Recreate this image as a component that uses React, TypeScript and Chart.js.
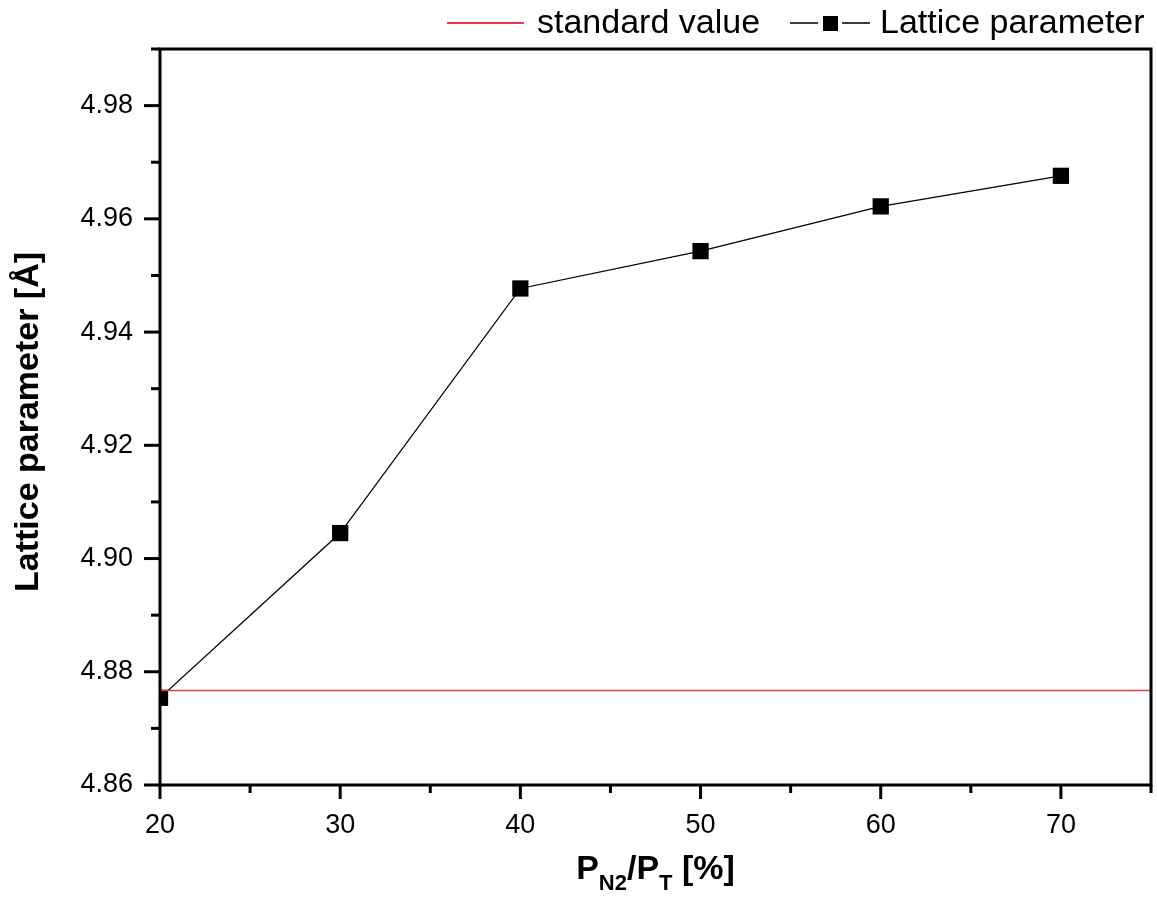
import React, { useEffect, useRef } from 'react';
import { Chart, registerables } from 'chart.js';

Chart.register(...registerables);

// ---- data ----
const xValues = [20, 30, 40, 50, 60, 70];
const latticeValues = [4.8754, 4.9045, 4.9477, 4.9543, 4.9622, 4.9676];
const standardValue = 4.8767;
const xRange = [20, 75];
const yRange = [4.86, 4.99];
const legendLabels = ['standard value', 'Lattice parameter'];
const yTitle = 'Lattice parameter [Å]';
const xTitleParts = [
  { t: 'P', sub: false },
  { t: 'N2', sub: true },
  { t: '/P', sub: false },
  { t: 'T', sub: true },
  { t: ' [%]', sub: false },
];

const FONT = "'Liberation Sans', Arial, Helvetica, sans-serif";
const RED = '#e23a55';

const zeroPad = (s: any) => {
  s.paddingLeft = 0;
  s.paddingRight = 0;
  s.paddingTop = 0;
  s.paddingBottom = 0;
};

const decorPlugin = {
  id: 'decor',
  afterDraw(chart: any) {
    const ctx = chart.ctx as CanvasRenderingContext2D;
    const { left, right, top, bottom } = chart.chartArea;
    const xs = chart.scales.x;
    const ys = chart.scales.y;
    ctx.save();
    ctx.strokeStyle = '#000';
    ctx.fillStyle = '#000';
    ctx.lineWidth = 3;
    ctx.strokeRect(left, top, right - left, bottom - top);

    // tick marks (major + minor)
    ctx.lineCap = 'butt';
    xs.ticks.forEach((t: any) => {
      const px = xs.getPixelForValue(t.value);
      const major = Math.round(t.value) % 10 === 0;
      const len = major ? 14 : 8;
      ctx.beginPath();
      ctx.moveTo(px, bottom);
      ctx.lineTo(px, bottom + len);
      ctx.stroke();
    });
    ys.ticks.forEach((t: any) => {
      const py = ys.getPixelForValue(t.value);
      const major = Math.round(t.value * 100) % 2 === 0;
      const len = major ? 16 : 9;
      ctx.beginPath();
      ctx.moveTo(left, py);
      ctx.lineTo(left - len, py);
      ctx.stroke();
    });

    // y title
    ctx.save();
    ctx.translate(29, (top + bottom) / 2 + 5);
    ctx.rotate(-Math.PI / 2);
    ctx.font = `bold 34px ${FONT}`;
    ctx.textAlign = 'center';
    ctx.textBaseline = 'middle';
    ctx.fillText(yTitle, 0, 0);
    ctx.restore();

    // x title with subscripts
    const mainFont = `bold 34px ${FONT}`;
    const subFont = `bold 22px ${FONT}`;
    let total = 0;
    const widths = xTitleParts.map((p) => {
      ctx.font = p.sub ? subFont : mainFont;
      const w = ctx.measureText(p.t).width;
      total += w;
      return w;
    });
    let cx = (left + right) / 2 - total / 2;
    const baseY = 879;
    ctx.textAlign = 'left';
    ctx.textBaseline = 'alphabetic';
    xTitleParts.forEach((p, i) => {
      ctx.font = p.sub ? subFont : mainFont;
      ctx.fillText(p.t, cx, p.sub ? baseY + 11 : baseY);
      cx += widths[i];
    });

    // legend
    const ly = 23;
    ctx.lineWidth = 2;
    ctx.strokeStyle = RED;
    ctx.beginPath();
    ctx.moveTo(447, ly);
    ctx.lineTo(524, ly);
    ctx.stroke();
    ctx.font = `34px ${FONT}`;
    ctx.fillStyle = '#000';
    ctx.fillText(legendLabels[0], 537, 33);

    ctx.strokeStyle = '#000';
    ctx.lineWidth = 1.5;
    ctx.beginPath();
    ctx.moveTo(790, ly);
    ctx.lineTo(818, ly);
    ctx.moveTo(842, ly);
    ctx.lineTo(870, ly);
    ctx.stroke();
    ctx.fillRect(823, ly - 7, 15, 15);
    ctx.fillText(legendLabels[1], 880, 33);

    ctx.restore();
  },
};

export default function App() {
  const ref = useRef<HTMLCanvasElement | null>(null);

  useEffect(() => {
    if (!ref.current) return;
    const chart = new Chart(ref.current, {
      type: 'line',
      data: {
        datasets: [
          {
            label: legendLabels[0],
            data: [
              { x: xRange[0], y: standardValue },
              { x: xRange[1], y: standardValue },
            ],
            borderColor: RED,
            borderWidth: 1.5,
            pointRadius: 0,
            clip: 0,
          },
          {
            label: legendLabels[1],
            data: xValues.map((x, i) => ({ x, y: latticeValues[i] })),
            borderColor: '#000',
            borderWidth: 1.3,
            pointStyle: 'rect',
            pointRadius: 11.5,
            pointBackgroundColor: '#000',
            pointBorderWidth: 0,
            clip: 0,
          },
        ],
      } as any,
      options: {
        animation: false,
        responsive: false,
        devicePixelRatio: 1,
        layout: {
          autoPadding: false,
          padding: { top: 49, right: 6, left: 0, bottom: 0 },
        },
        plugins: { legend: { display: false }, tooltip: { enabled: false } },
        scales: {
          x: {
            type: 'linear',
            min: xRange[0],
            max: xRange[1],
            grid: { display: false, drawTicks: true, tickLength: 24 },
            border: { display: false },
            ticks: {
              stepSize: 5,
              autoSkip: false,
              maxRotation: 0,
              padding: 0,
              color: '#000',
              font: { size: 27, family: FONT },
              callback: (v: any) => (Math.round(v) % 10 === 0 ? String(v) : ''),
            },
            afterFit: (s: any) => {
              s.height = 118;
              zeroPad(s);
            },
          },
          y: {
            type: 'linear',
            min: yRange[0],
            max: yRange[1],
            grid: { display: false, drawTicks: false },
            border: { display: false },
            ticks: {
              stepSize: 0.01,
              autoSkip: false,
              padding: 27,
              color: '#000',
              font: { size: 27, family: FONT },
              callback: (v: any) =>
                Math.round(v * 100) % 2 === 0 ? Number(v).toFixed(2) : '',
            },
            afterFit: (s: any) => {
              s.width = 160;
              zeroPad(s);
            },
          },
        },
      } as any,
      plugins: [decorPlugin],
    });
    return () => chart.destroy();
  }, []);

  return (
    <div
      style={{
        position: 'fixed',
        left: 0,
        top: 0,
        width: 1157,
        height: 903,
        background: '#fff',
      }}
    >
      <canvas ref={ref} width={1157} height={903} style={{ width: 1157, height: 903 }} />
    </div>
  );
}
